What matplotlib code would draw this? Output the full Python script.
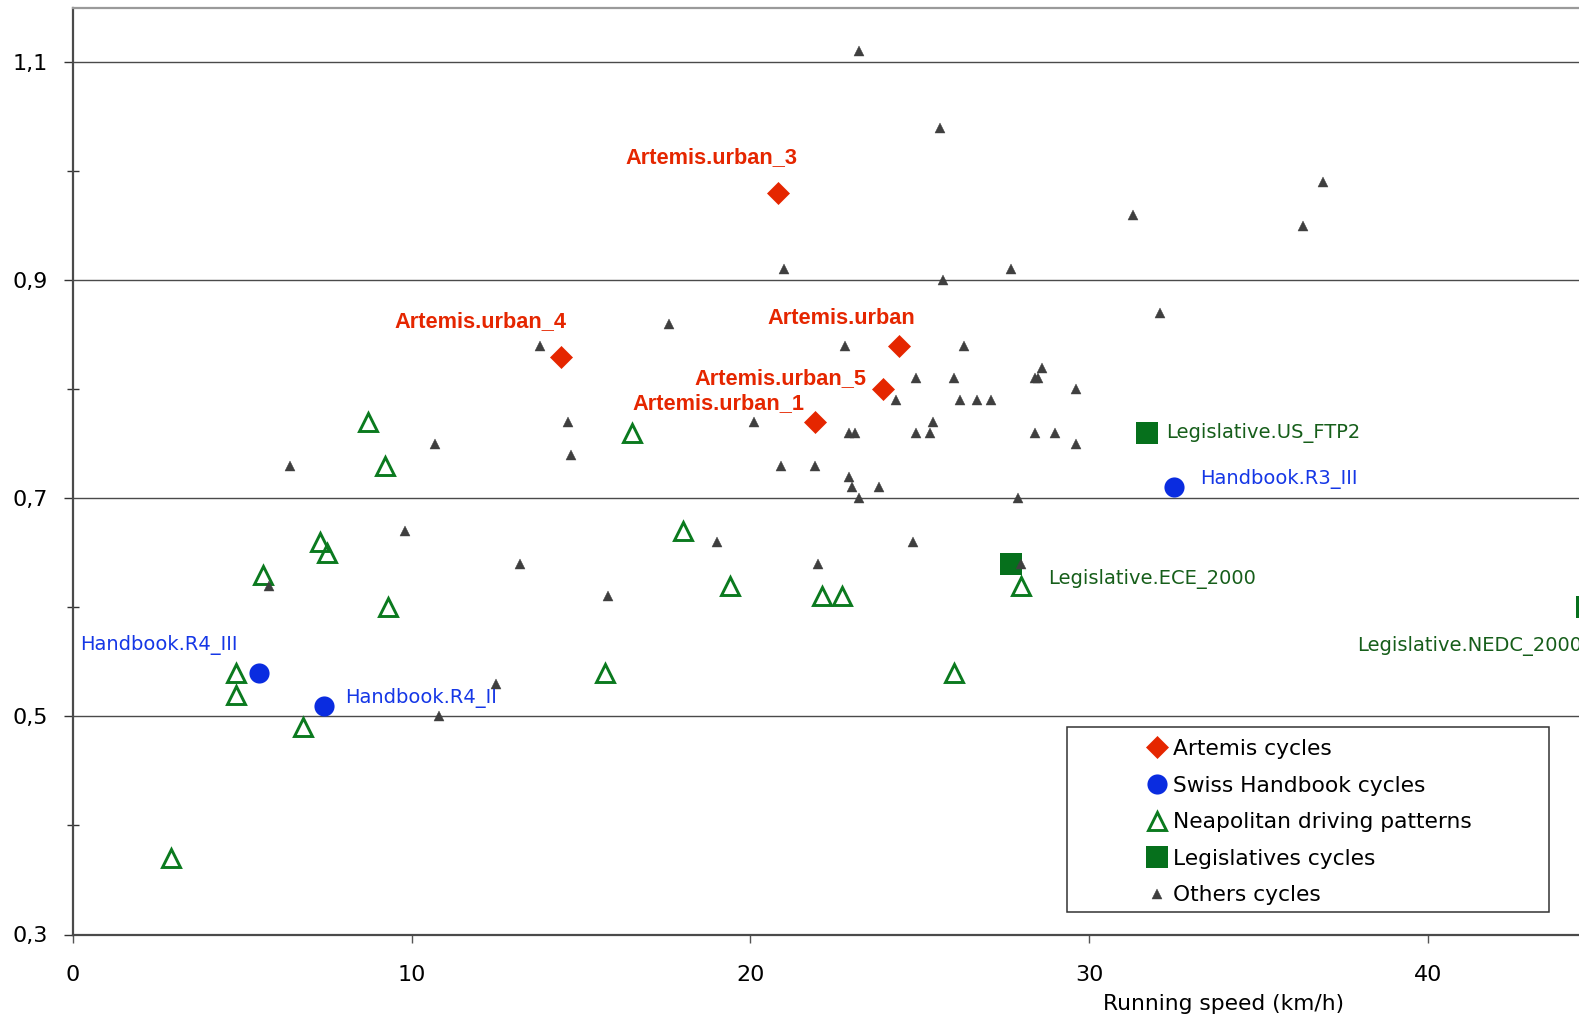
import matplotlib
matplotlib.use("Agg")
import matplotlib.pyplot as plt
from matplotlib.patches import Rectangle
from matplotlib.ticker import FuncFormatter, FixedLocator

# ---------------- data ----------------
artemis_names = ["Artemis.urban_3", "Artemis.urban_4", "Artemis.urban",
                 "Artemis.urban_5", "Artemis.urban_1"]
artemis_x = [20.8, 14.4, 24.4, 23.9, 21.9]
artemis_y = [0.98, 0.83, 0.84, 0.80, 0.77]

handbook_names = ["Handbook.R3_III", "Handbook.R4_III", "Handbook.R4_II"]
handbook_x = [32.5, 5.5, 7.4]
handbook_y = [0.71, 0.54, 0.51]

legis_names = ["Legislative.US_FTP2", "Legislative.ECE_2000", "Legislative.NEDC_2000"]
legis_x = [31.7, 27.7, 44.7]
legis_y = [0.76, 0.64, 0.60]

neap_x = [2.9, 4.8, 4.8, 5.6, 7.3, 7.5, 6.8, 9.3, 8.7, 9.2,
          16.5, 18.0, 15.7, 19.4, 22.1, 22.7, 26.0, 28.0]
neap_y = [0.37, 0.54, 0.52, 0.63, 0.66, 0.65, 0.49, 0.60, 0.77, 0.73,
          0.76, 0.67, 0.54, 0.62, 0.61, 0.61, 0.54, 0.62]

others_x = [6.4, 10.7, 9.8, 13.2, 5.8, 12.5, 10.8,
            23.2, 25.6, 21.0, 25.7, 27.7, 17.6, 13.8,
            22.8, 26.3, 28.6, 24.9, 26.0, 28.4, 28.5, 29.6,
            24.3, 26.2, 26.7, 27.1, 25.4, 22.9, 23.1, 24.9, 25.3, 28.4, 29.0, 29.6,
            22.9, 23.0, 23.8, 23.2, 27.9,
            14.6, 20.1, 14.7, 20.9, 21.9,
            19.0, 24.8, 22.0, 28.0, 15.8,
            32.1, 31.3, 36.9, 36.3]
others_y = [0.73, 0.75, 0.67, 0.64, 0.62, 0.53, 0.50,
            1.11, 1.04, 0.91, 0.90, 0.91, 0.86, 0.84,
            0.84, 0.84, 0.82, 0.81, 0.81, 0.81, 0.81, 0.80,
            0.79, 0.79, 0.79, 0.79, 0.77, 0.76, 0.76, 0.76, 0.76, 0.76, 0.76, 0.75,
            0.72, 0.71, 0.71, 0.70, 0.70,
            0.77, 0.77, 0.74, 0.73, 0.73,
            0.66, 0.66, 0.64, 0.64, 0.61,
            0.87, 0.96, 0.99, 0.95]

series_labels = ["Artemis cycles", "Swiss Handbook cycles", "Neapolitan driving patterns",
                 "Legislatives cycles", "Others cycles"]
x_ticks = [0, 10, 20, 30, 40]
y_major = [0.3, 0.5, 0.7, 0.9, 1.1]
y_minor = [0.4, 0.6, 0.8, 1.0]
x_label = "Running speed (km/h)"

# ---------------- style ----------------
RED = "#E52600"
BLUE = "#0A2CE0"
BLUE_TXT = "#1537E6"
GREEN_T = "#0B7A1F"
GREEN_S = "#06701C"
GREEN_TXT = "#165E1A"
GREY = "#3F3F3F"

plt.rcParams["font.family"] = ["DejaVu Sans"]

W, H = 1579, 1016
fig = plt.figure(figsize=(W / 100, H / 100), dpi=100)
ax_left, ax_bottom = 73 / W, 81.5 / H
ax_w, ax_h = 1524.2 / W, 926.8 / H
ax = fig.add_axes([ax_left, ax_bottom, ax_w, ax_h])
ax.set_xlim(0, 45)
ax.set_ylim(0.3, 1.15)

# series
h_art, = ax.plot(artemis_x, artemis_y, ls="none", marker="D", ms=11.5,
                 mfc=RED, mec=RED, mew=0.5, zorder=4)
h_hb, = ax.plot(handbook_x, handbook_y, ls="none", marker="o", ms=14.5,
                mfc=BLUE, mec=BLUE, mew=0, zorder=4)
h_neap, = ax.plot(neap_x, neap_y, ls="none", marker="^", ms=13.5,
                  mfc="none", mec=GREEN_T, mew=2.1, zorder=3)
h_leg, = ax.plot(legis_x, legis_y, ls="none", marker="s", ms=16,
                 mfc=GREEN_S, mec=GREEN_S, mew=0, zorder=3)
h_oth, = ax.plot(others_x, others_y, ls="none", marker="^", ms=7,
                 mfc=GREY, mec=GREY, mew=0.3, zorder=5)

# point labels (offsets in pixels)
art_off = [(20, 35, "right"), (6, 35, "right"), (16, 27, "right"),
           (-16, 11, "right"), (-10, 18, "right")]
for name, x, y, (dx, dy, ha) in zip(artemis_names, artemis_x, artemis_y, art_off):
    ax.annotate(name, (x, y), xytext=(dx, dy), textcoords="offset pixels",
                ha=ha, va="center", color=RED, fontsize=15.7, fontweight="bold",
                family=["Liberation Sans", "DejaVu Sans"], zorder=6)

hb_off = [(26, 8, "left"), (-22, 28, "right"), (21, 8, "left")]
for name, x, y, (dx, dy, ha) in zip(handbook_names, handbook_x, handbook_y, hb_off):
    ax.annotate(name, (x, y), xytext=(dx, dy), textcoords="offset pixels",
                ha=ha, va="center", color=BLUE_TXT, fontsize=14, zorder=6)

leg_off = [(19, 0, "left"), (37, -15, "left"), (-230, -39, "left")]
for name, x, y, (dx, dy, ha) in zip(legis_names, legis_x, legis_y, leg_off):
    ax.annotate(name, (x, y), xytext=(dx, dy), textcoords="offset pixels",
                ha=ha, va="center", color=GREEN_TXT, fontsize=14, zorder=6,
                annotation_clip=False)

# axes styling
ax.yaxis.set_major_locator(FixedLocator(y_major))
ax.yaxis.set_minor_locator(FixedLocator(y_minor))
ax.xaxis.set_major_locator(FixedLocator(x_ticks))
ax.yaxis.set_major_formatter(FuncFormatter(lambda v, p: f"{v:.1f}".replace(".", ",")))
ax.xaxis.set_major_formatter(FuncFormatter(lambda v, p: f"{v:.0f}"))
ax.yaxis.grid(True, which="major", color="#4a4a4a", lw=1.0, zorder=0)
ax.set_axisbelow(True)

ax.tick_params(axis="y", which="major", direction="out", length=6.3, width=1.0,
               color="#333333", labelsize=16, pad=11.5)
ax.tick_params(axis="y", which="minor", direction="inout", length=8.5, width=1.0,
               color="#333333")
ax.tick_params(axis="x", which="major", direction="out", length=5.5, width=1.0,
               color="#555555", labelsize=16, pad=16.5)

for side in ["left", "bottom"]:
    ax.spines[side].set_color("#4a4a4a")
    ax.spines[side].set_linewidth(1.6)
ax.spines["top"].set_color("#9a9a9a")
ax.spines["top"].set_linewidth(1.6)
ax.spines["right"].set_visible(False)

ax.set_xlabel(x_label, fontsize=15.7, va="center")
ax.xaxis.set_label_coords((1223.6 - 73) / 1524.2, -70 / 926.8)

# legend frame + legend
x0 = (1067.2 - 73) / 1524.2
x1 = (1548.9 - 73) / 1524.2
y_top = (934.5 - 727) / 926.8
y_bot = (934.5 - 912.3) / 926.8
ax.add_patch(Rectangle((x0, y_bot), x1 - x0, y_top - y_bot, transform=ax.transAxes,
                       facecolor="white", edgecolor="#333333", lw=1.1, zorder=7))

leg = ax.legend([h_art, h_hb, h_neap, h_leg, h_oth], series_labels,
                loc="upper left", bbox_to_anchor=(1146.3 / W, 1 - 739 / H),
                bbox_transform=fig.transFigure, frameon=False, fontsize=15.7,
                borderpad=0, borderaxespad=0, handlelength=1.0, handletextpad=0.22,
                labelspacing=0.76, numpoints=1)
leg.set_zorder(8)

fig.savefig("out.png", dpi=100)
